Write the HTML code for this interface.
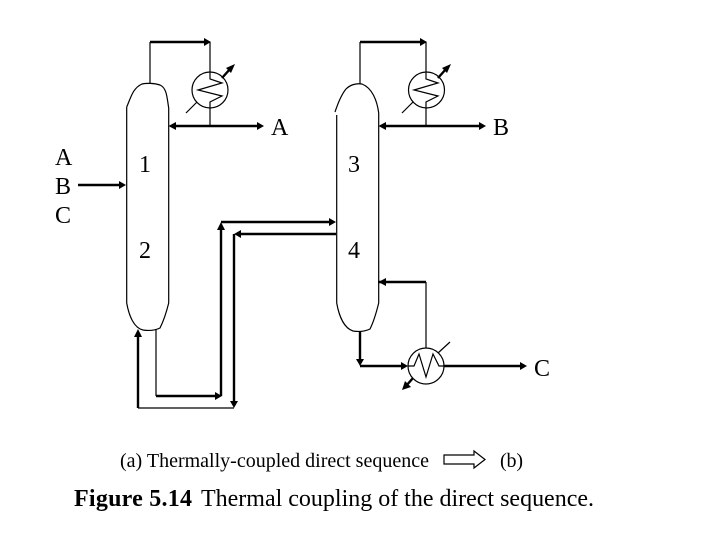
<!DOCTYPE html>
<html><head><meta charset="utf-8"><style>
html,body{margin:0;padding:0;background:#fff}
svg{display:block}
text{font-family:"Liberation Serif",serif;fill:#000}
</style></head><body>
<svg width="720" height="540" viewBox="0 0 720 540" xmlns="http://www.w3.org/2000/svg">
<g fill="none" stroke="#000" stroke-width="1.2">
<!-- columns -->
<path d="M126.700 107 V303 C129 316 134 328 143 330 C150 331 156 330 160 328 C163 322 166 314 168.700 303 V108 C167 98 167 88 160 85 C154 83 146 83 142 84 C133 88 131 97 126.700 107"/>
<path d="M336.700 115 V303 C339 316 344 328 353 331 C360 332 366 331 370 329 C373 323 376 314 378.700 303 V113 C377 100 372 88 362 84 C356 83 350 85 346 89 C341 95 338 103 335 112"/>
<!-- thin pipes -->
<path d="M150 83 V42 M210 42 V72 M210 108 V126"/>
<path d="M360 84 V42 M426 42 V72 M426 108 V126"/>
<path d="M156 330 V396"/>
<path d="M138 408 H234"/>
<path d="M426 348 V282"/>
<!-- condensers and reboiler -->
<circle cx="210" cy="90" r="18"/><circle cx="426.500" cy="90" r="18"/><circle cx="426" cy="366" r="18"/>
<path d="M210 72 V79 L222 83 L198 90 L222 96 L210 102 V108"/>
<path d="M426 72 V79 L438 83 L414 90 L438 96 L426 102 V108"/>
<path d="M408 366 H414 L419 354 L426 377 L433 354 L439 366 H444"/>
<path d="M186 113 L197 102 M402 113 L413 102 M438 353 L450 342"/>
</g>
<g fill="none" stroke="#000" stroke-width="2.400">
<path d="M150 42 H206"/>
<path d="M360 42 H422"/>
<path d="M174 126 H260"/>
<path d="M384 126 H482"/>
<path d="M78 185 H122"/>
<path d="M156 396 H217"/>
<path d="M221 396 V226 M221 222 H332"/>
<path d="M336 234 H240 M234 234 V404"/>
<path d="M138 408 V336"/>
<path d="M378 282 H426"/>
<path d="M360 331 V362 M360 366 H405"/>
<path d="M444 366 H523"/>
<path d="M222 78 L230 69"/>
<path d="M438 78 L446 69"/>
<path d="M413 378 L406 386"/>
</g>
<g fill="#000">
<polygon points="211,42 204,38 204,46"/>
<polygon points="427,42 420,38 420,46"/>
<polygon points="168.500,126 176,122 176,130"/>
<polygon points="264,126 257,122 257,130"/>
<polygon points="378.500,126 386,122 386,130"/>
<polygon points="486,126 479,122 479,130"/>
<polygon points="126,185 119,181 119,189"/>
<polygon points="222,396 215,392 215,400"/>
<polygon points="221,222 217,230 225,230"/>
<polygon points="336,222 329,218 329,226"/>
<polygon points="234,234 241,230 241,238"/>
<polygon points="234,408 230,401 238,401"/>
<polygon points="138,329 134,337 142,337"/>
<polygon points="378.500,282 386,278 386,286"/>
<polygon points="360,366 356,359 364,359"/>
<polygon points="408,366 401,362 401,370"/>
<polygon points="527,366 520,362 520,370"/>
<polygon points="235,64 226,68 231,73"/>
<polygon points="451,64 442,68 447,73"/>
<polygon points="402,390 405,381 411,387"/>
</g>
<!-- hollow arrow -->
<polygon points="444,455 474,455 474,451 485,459.500 474,468 474,464 444,464" fill="#fff" stroke="#000" stroke-width="1.200"/>
<!-- labels -->
<g font-size="24">
<text x="271" y="135">A</text>
<text x="493" y="135">B</text>
<text x="534" y="376">C</text>
<text x="55" y="165">A</text>
<text x="55" y="194">B</text>
<text x="55" y="223">C</text>
<text x="139" y="172">1</text>
<text x="139" y="258">2</text>
<text x="348" y="172">3</text>
<text x="348" y="258">4</text>
</g>
<text x="120" y="467" font-size="20" textLength="309" lengthAdjust="spacing">(a) Thermally-coupled direct sequence</text>
<text x="500" y="467" font-size="20" textLength="23" lengthAdjust="spacing">(b)</text>
<text x="74" y="506" font-size="24" font-weight="bold" textLength="118" lengthAdjust="spacing">Figure 5.14</text>
<text x="201" y="506" font-size="24" textLength="393" lengthAdjust="spacing">Thermal coupling of the direct sequence.</text>
</svg>
</body></html>
